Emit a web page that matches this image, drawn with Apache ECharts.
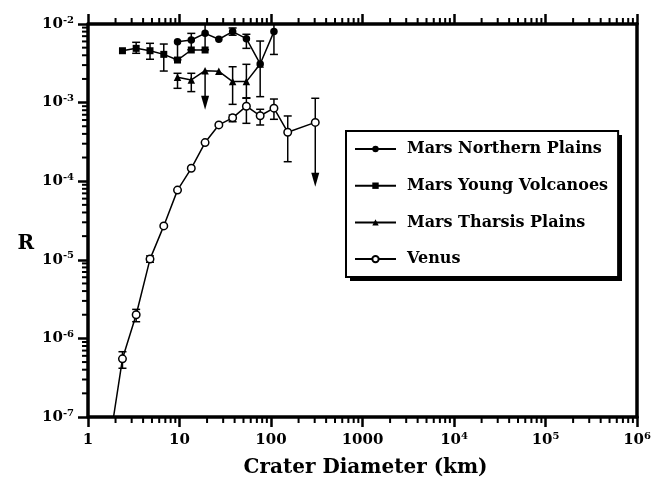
<!DOCTYPE html>
<html>
<head>
<meta charset="utf-8">
<script src="https://cdn.jsdelivr.net/npm/echarts@6/dist/echarts.min.js"></script>
<style>html,body{margin:0;padding:0;background:#fff;}#c{width:654px;height:486px;}</style>
</head>
<body>
<div id="c"></div>
<script>
// ---- Data (crater diameter km, R value) ----
const npD  = [9.51, 13.45, 19.03, 26.9, 38.05, 53.8, 76.1, 107.6];
const npR  = [5.95e-3, 6.26e-3, 7.6e-3, 6.4e-3, 8.0e-3, 6.5e-3, 3.1e-3, 8.0e-3];
const npLo = [3.5e-3, 4.7e-3, 4.7e-3, null, 7.2e-3, 4.9e-3, 1.19e-3, 4.1e-3];
const npHi = [null, 7.6e-3, 1.0e-2, null, 8.9e-3, 7.4e-3, 6.07e-3, 1.0e-2];

const yvD  = [2.38, 3.36, 4.76, 6.73, 9.51, 13.45, 19.03];
const yvR  = [4.57e-3, 4.9e-3, 4.57e-3, 4.11e-3, 3.48e-3, 4.67e-3, 4.67e-3];
const yvLo = [null, 4.24e-3, 3.56e-3, 2.52e-3, null, null, null];
const yvHi = [null, 5.85e-3, 5.68e-3, 5.56e-3, null, null, null];

const tpD  = [9.51, 13.45, 19.03, 26.9, 38.05, 53.8, 76.1];
const tpR  = [2.1e-3, 1.94e-3, 2.55e-3, 2.5e-3, 1.85e-3, 1.85e-3, 3.1e-3];
const tpLo = [1.52e-3, 1.38e-3, null, null, 9.5e-4, 1.15e-3, null];
const tpHi = [2.36e-3, 2.36e-3, null, null, 2.86e-3, 3.07e-3, null];
const tpLim = [null, null, 8.1e-4, null, null, null, null];

const vD  = [1.68, 2.38, 3.36, 4.76, 6.73, 9.51, 13.45, 19.03, 26.9, 38.05, 53.8, 76.1, 107.6, 152.2, 304.4];
const vR  = [3.9e-8, 5.5e-7, 2.0e-6, 1.02e-5, 2.7e-5, 7.7e-5, 1.46e-4, 3.1e-4, 5.2e-4, 6.4e-4, 9.0e-4, 6.8e-4, 8.5e-4, 4.2e-4, 5.6e-4];
const vLo = [null, 4.17e-7, 1.63e-6, 9.3e-6, null, null, null, null, null, 5.71e-4, 5.45e-4, 5.19e-4, 6.13e-4, 1.77e-4, null];
const vHi = [null, 6.77e-7, 2.34e-6, 1.12e-5, null, null, null, null, null, 6.95e-4, 1.135e-3, 8.22e-4, 1.11e-3, 6.76e-4, 1.135e-3];
const vLim = [null, null, null, null, null, null, null, null, null, null, null, null, null, null, 8.5e-5];

const seriesNames = ['Mars Northern Plains', 'Mars Young Volcanoes', 'Mars Tharsis Plains', 'Venus'];

// axis ranges and minor tick values
const X_MIN = 1, X_MAX = 1e6, Y_MIN = 1e-7, Y_MAX = 1e-2;
const xMinorTicks = [];
for (let k = 0; k < 6; k++) for (let m = 2; m <= 9; m++) xMinorTicks.push(m * Math.pow(10, k));
const yMinorTicks = [];
for (let k = -7; k < -2; k++) for (let m = 2; m <= 9; m++) yMinorTicks.push(m * Math.pow(10, k));

const FONT = 'DejaVu Serif';

function pairs(D, R) { return D.map((d, i) => [d, R[i]]); }

function errRender(lo, hi, lim) {
  return function (params, api) {
    const i = params.dataIndex;
    const x = api.value(0), y = api.value(1);
    const c = api.coord([x, y]);
    const st = { stroke: '#000', lineWidth: 1.5 };
    const cap = 4;
    const ch = [];
    if (hi[i] != null) {
      const h = api.coord([x, hi[i]]);
      ch.push({ type: 'line', shape: { x1: c[0], y1: c[1], x2: h[0], y2: h[1] }, style: st });
      ch.push({ type: 'line', shape: { x1: h[0] - cap, y1: h[1], x2: h[0] + cap, y2: h[1] }, style: st });
    }
    if (lo[i] != null) {
      const l = api.coord([x, lo[i]]);
      ch.push({ type: 'line', shape: { x1: c[0], y1: c[1], x2: l[0], y2: l[1] }, style: st });
      ch.push({ type: 'line', shape: { x1: l[0] - cap, y1: l[1], x2: l[0] + cap, y2: l[1] }, style: st });
    }
    if (lim && lim[i] != null) {
      const t = api.coord([x, lim[i]]);
      ch.push({ type: 'line', shape: { x1: c[0], y1: c[1], x2: t[0], y2: t[1] - 10 }, style: st });
      ch.push({ type: 'polygon', shape: { points: [[t[0] - 4, t[1] - 14], [t[0] + 4, t[1] - 14], [t[0], t[1]]] }, style: { fill: '#000' } });
    }
    return { type: 'group', children: ch };
  };
}

function errSeries(D, R, lo, hi, lim) {
  return {
    type: 'custom', coordinateSystem: 'cartesian2d', xAxisIndex: 0, yAxisIndex: 0,
    data: pairs(D, R), renderItem: errRender(lo, hi, lim), z: 1, silent: true
  };
}

function supFmt(v) {
  const e = Math.round(Math.log10(v));
  return '{b|10}{s|' + e + '}';
}

const labelRich = {
  b: { fontFamily: FONT, fontWeight: 'bold', fontSize: 15, color: '#000', lineHeight: 18 },
  s: { fontFamily: FONT, fontWeight: 'bold', fontSize: 10, color: '#000', lineHeight: 10, verticalAlign: 'top' }
};

const axisLineStyle = { color: '#000', width: 3.5 };

const option = {
  animation: false,
  backgroundColor: '#fff',
  grid: { left: 88, right: 13, top: 24, bottom: 69 },
  graphic: [
    // legend drop shadow
    { type: 'rect', left: 350, top: 135, z: 3, silent: true,
      shape: { width: 272, height: 146 }, style: { fill: '#000' } }
  ],
  xAxis: [
    {
      type: 'log', logBase: 10, min: X_MIN, max: X_MAX, position: 'bottom',
      name: 'Crater Diameter (km)', nameLocation: 'middle', nameGap: 41,
      nameTextStyle: { fontFamily: FONT, fontWeight: 'bold', fontSize: 20, color: '#000', padding: [0, 0, 0, 6] },
      axisLine: { lineStyle: axisLineStyle },
      axisTick: { inside: false, length: 10, lineStyle: { color: '#000', width: 2.5 } },
      splitLine: { show: false },
      axisLabel: {
        margin: 14,
        formatter: function (v) {
          const e = Math.round(Math.log10(v));
          if (e < 4) return '{b|' + Math.pow(10, e) + '}';
          return supFmt(v);
        },
        rich: labelRich
      }
    },
    {
      type: 'log', logBase: 10, min: X_MIN, max: X_MAX, position: 'top',
      axisLine: { lineStyle: axisLineStyle },
      axisTick: { inside: false, length: 10, lineStyle: { color: '#000', width: 2.5 } },
      axisLabel: { show: false }, splitLine: { show: false }
    }
  ],
  yAxis: [
    {
      type: 'log', logBase: 10, min: Y_MIN, max: Y_MAX, position: 'left',
      name: 'R', nameLocation: 'middle', nameGap: 54, nameRotate: 0,
      nameTextStyle: { fontFamily: FONT, fontWeight: 'bold', fontSize: 20, color: '#000', verticalAlign: 'top', padding: [13, 0, 0, 0] },
      axisLine: { lineStyle: axisLineStyle },
      axisTick: { inside: false, length: 10, lineStyle: { color: '#000', width: 2.5 } },
      splitLine: { show: false },
      axisLabel: { margin: 14, formatter: supFmt, rich: labelRich }
    },
    {
      type: 'log', logBase: 10, min: Y_MIN, max: Y_MAX, position: 'right',
      axisLine: { lineStyle: axisLineStyle },
      axisTick: { show: false }, axisLabel: { show: false }, splitLine: { show: false }
    }
  ],
  legend: {
    data: seriesNames, z: 4,
    orient: 'vertical', left: 346, top: 131,
    padding: [10, 10, 10, 8], itemGap: 20.7, itemWidth: 41, itemHeight: 8,
    backgroundColor: '#fff', borderColor: '#000', borderWidth: 2, borderRadius: 0,
    textStyle: { fontFamily: FONT, fontWeight: 'bold', fontSize: 16, color: '#000', padding: [0, 0, 0, 6] }
  },
  series: [
    // minor ticks (drawn through the axis scales)
    {
      type: 'custom', coordinateSystem: 'cartesian2d', silent: true, z: 5,
      data: xMinorTicks.map(v => [v, Y_MIN]),
      renderItem: function (params, api) {
        const v = api.value(0);
        const b = api.coord([v, Y_MIN]), t = api.coord([v, Y_MAX]);
        const st = { stroke: '#000', lineWidth: 2 };
        return { type: 'group', children: [
          { type: 'line', shape: { x1: b[0], y1: b[1], x2: b[0], y2: b[1] + 6 }, style: st },
          { type: 'line', shape: { x1: t[0], y1: t[1], x2: t[0], y2: t[1] - 6 }, style: st }
        ] };
      }
    },
    {
      type: 'custom', coordinateSystem: 'cartesian2d', silent: true, z: 5,
      data: yMinorTicks.map(v => [X_MIN, v]),
      renderItem: function (params, api) {
        const v = api.value(1);
        const l = api.coord([X_MIN, v]);
        const st = { stroke: '#000', lineWidth: 2 };
        return { type: 'line', shape: { x1: l[0], y1: l[1], x2: l[0] - 6, y2: l[1] }, style: st };
      }
    },
    errSeries(npD, npR, npLo, npHi, null),
    errSeries(yvD, yvR, yvLo, yvHi, null),
    errSeries(tpD, tpR, tpLo, tpHi, tpLim),
    errSeries(vD, vR, vLo, vHi, vLim),
    {
      name: seriesNames[0], type: 'line', data: pairs(npD, npR), z: 2,
      symbol: 'circle', symbolSize: 7.5,
      lineStyle: { color: '#000', width: 1.5 }, itemStyle: { color: '#000' }
    },
    {
      name: seriesNames[1], type: 'line', data: pairs(yvD, yvR), z: 2,
      symbol: 'rect', symbolSize: 7,
      lineStyle: { color: '#000', width: 1.5 }, itemStyle: { color: '#000' }
    },
    {
      name: seriesNames[2], type: 'line', data: pairs(tpD, tpR), z: 2,
      symbol: 'triangle', symbolSize: 7.5,
      lineStyle: { color: '#000', width: 1.5 }, itemStyle: { color: '#000' }
    },
    {
      name: seriesNames[3], type: 'line', data: pairs(vD, vR), z: 2, clip: true,
      symbol: 'circle', symbolSize: 7.5, showAllSymbol: true,
      lineStyle: { color: '#000', width: 1.5 },
      itemStyle: { color: '#fff', borderColor: '#000', borderWidth: 1.5 }
    }
  ]
};

const chart = echarts.init(document.getElementById('c'), null, { renderer: 'canvas' });
chart.setOption(option);
</script>
</body>
</html>
